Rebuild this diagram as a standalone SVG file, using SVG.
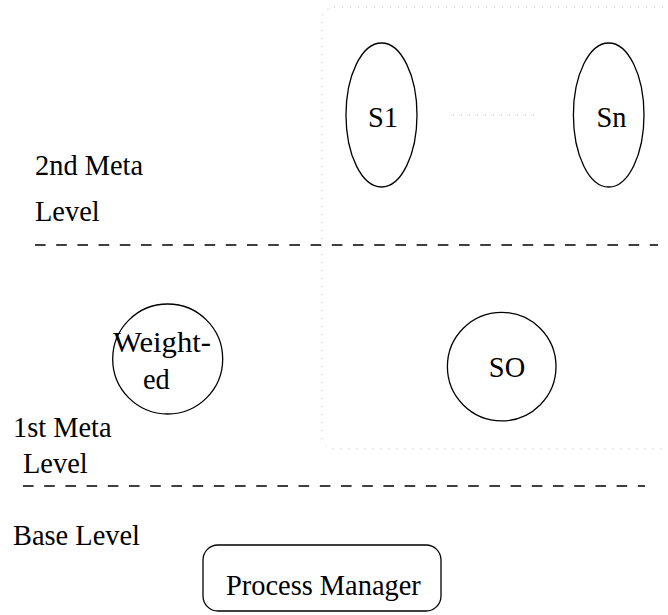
<svg xmlns="http://www.w3.org/2000/svg" width="668" height="615" viewBox="0 0 668 615">
  <style>
    text { font-family: "Liberation Serif", "Times New Roman", serif; font-size: 28.4px; fill: #000; }
    .node { fill: none; stroke: #000; stroke-width: 1.3; }
    .dotted { fill: none; stroke: #b8b8b8; stroke-width: 1; stroke-dasharray: 1 7; }
    .level { fill: none; stroke: #000; stroke-width: 1.3; stroke-dasharray: 10.6 10.6; }
    .mid { text-anchor: middle; }
  </style>
  <rect width="668" height="615" fill="#fff"/>

  <!-- scope of the server objects -->
  <rect class="dotted" x="322" y="7" width="380" height="442" rx="12"/>

  <!-- level separators -->
  <g id="separators">
    <line class="level" x1="35" y1="245" x2="658" y2="245"/>
    <line class="level" x1="23" y1="486" x2="645" y2="486"/>
  </g>

  <!-- level labels -->
  <g id="labels">
    <text x="35" y="175">2nd Meta</text>
    <text x="35" y="221">Level</text>
    <text x="13" y="437">1st Meta</text>
    <text x="23" y="473">Level</text>
    <text x="13" y="545">Base Level</text>
  </g>

  <g id="connectors">
    <line class="dotted" x1="453" y1="115" x2="537" y2="115"/>
  </g>

  <g id="s1">
    <ellipse class="node" cx="381.5" cy="115" rx="35.5" ry="72"/>
    <text class="mid" x="383" y="127">S1</text>
  </g>

  <g id="sn">
    <ellipse class="node" cx="608.7" cy="115" rx="35.3" ry="72"/>
    <text class="mid" x="611.5" y="127">Sn</text>
  </g>

  <g id="weighted">
    <circle class="node" cx="167.7" cy="359" r="55"/>
    <text x="113" y="352" textLength="98" lengthAdjust="spacingAndGlyphs">Weight-</text>
    <text x="143" y="389">ed</text>
  </g>

  <g id="so">
    <circle class="node" cx="501.7" cy="366.6" r="54.3"/>
    <text class="mid" x="507" y="377">SO</text>
  </g>

  <g id="process-manager">
    <rect class="node" x="203" y="545" width="238" height="66" rx="15"/>
    <text x="226" y="595">Process Manager</text>
  </g>
</svg>
